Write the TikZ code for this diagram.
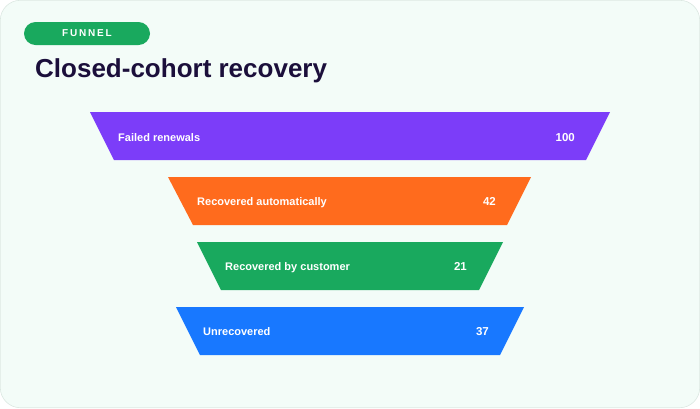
\documentclass[tikz,border=0pt]{standalone}
\usepackage{fontspec}
\setmainfont{Liberation Sans}
\usepackage{xcolor}
\usetikzlibrary{positioning}

\definecolor{pagebg}{HTML}{F3FCF8}
\definecolor{pageedge}{HTML}{DCE8E2}
\definecolor{titleink}{HTML}{1B0F3B}
\definecolor{failfill}{HTML}{7C3DF9}
\definecolor{autofill}{HTML}{FF6B1D}
\definecolor{custfill}{HTML}{19A95E}
\definecolor{lostfill}{HTML}{1878FF}

\begin{document}
\begin{tikzpicture}[x=1pt, y=-1pt]
	% Styles
	\tikzset{
		stagelabel/.style={anchor=base west, text=white, font=\bfseries\fontsize{11}{13}\selectfont, inner sep=0pt},
		stagevalue/.style={anchor=base east, text=white, font=\bfseries\fontsize{11.5}{13}\selectfont, inner sep=0pt},
		tag/.style={fill=custfill, rounded corners=11.5pt, minimum width=126pt, minimum height=23pt,
			inner sep=0pt, text=white, font=\bfseries\fontsize{10}{12}\selectfont}
	}

	% Background
	\useasboundingbox (0,0) rectangle (700,408);
	\filldraw[fill=pagebg, draw=pageedge, line width=0.6pt, rounded corners=20pt] (0.3,0.3) rectangle (699.7,407.7);

	% Header
	\node (tag) [tag] at (87,33.5) {\addfontfeatures{LetterSpace=18}FUNNEL};
	\node (title) [anchor=base west, inner sep=0pt, text=titleink, font=\bfseries\fontsize{26}{30}\selectfont] at (35,77) {Closed-cohort recovery};

	% Funnel stages
	\fill[failfill] (90,112) -- (610,112) -- (586,160) -- (114,160) -- cycle;
	\fill[autofill] (168,177) -- (531,177) -- (507,225) -- (193,225) -- cycle;
	\fill[custfill] (197,242) -- (503,242) -- (479,290) -- (221,290) -- cycle;
	\fill[lostfill] (176,307) -- (524,307) -- (500,355) -- (200,355) -- cycle;

	% Texts
	\node (faillabel) [stagelabel] at (118,141) {Failed renewals};
	\node (failvalue) [stagevalue] at (575,141.5) {100};
	\node (autolabel) [stagelabel] at (197,205) {Recovered automatically};
	\node (autovalue) [stagevalue] at (496,205.5) {42};
	\node (custlabel) [stagelabel] at (225,270) {Recovered by customer};
	\node (custvalue) [stagevalue] at (467,270.5) {21};
	\node (lostlabel) [stagelabel] at (203,335) {Unrecovered};
	\node (lostvalue) [stagevalue] at (489,335.5) {37};
\end{tikzpicture}
\end{document}
